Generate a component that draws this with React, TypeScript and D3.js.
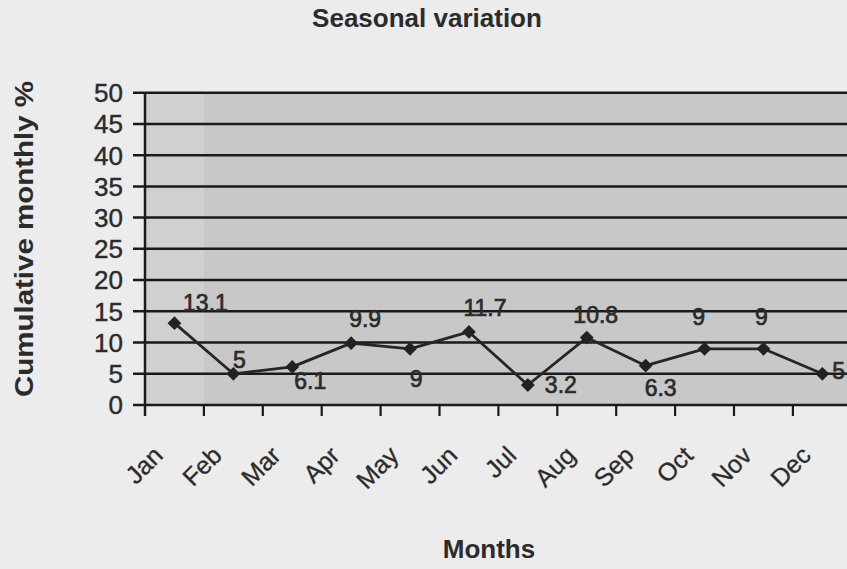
import React, { useRef, useEffect } from 'react';
import * as d3 from 'd3';

const months: string[] = ['Jan', 'Feb', 'Mar', 'Apr', 'May', 'Jun', 'Jul', 'Aug', 'Sep', 'Oct', 'Nov', 'Dec'];
const values: number[] = [13.1, 5, 6.1, 9.9, 9, 11.7, 3.2, 10.8, 6.3, 9, 9, 5];
const yTicks: number[] = [0, 5, 10, 15, 20, 25, 30, 35, 40, 45, 50];

// where each data label sits relative to its point (scan layout)
const labelPlace: [number, number, string][] = [
  [31, -12, 'middle'], [6, -6, 'middle'], [18, 22, 'middle'], [14, -16, 'middle'],
  [6, 38, 'middle'], [16, -16, 'middle'], [17, 8, 'start'], [9, -15, 'middle'],
  [15, 30, 'middle'], [-6, -24, 'middle'], [-2, -24, 'middle'], [10, 5, 'start'],
];

const W = 847;
const H = 569;
const FONT = '"Liberation Sans", Arial, sans-serif';
const INK = '#2b2b2b';

const App: React.FC = () => {
  const svgRef = useRef<SVGSVGElement | null>(null);

  useEffect(() => {
    const svg = d3.select(svgRef.current!);
    svg.selectAll('*').remove();

    const left = 145;
    const top = 92.7;
    const bottom = 405;
    const right = left + 12 * 58.9;

    const x = d3.scaleBand<string>().domain(months).range([left, right]).padding(0);
    const y = d3.scaleLinear().domain([0, 50]).range([bottom, top]);

    svg.append('rect').attr('width', W).attr('height', H).attr('fill', '#ececec');

    // plot area, first column a touch lighter like the scan
    svg.append('rect')
      .attr('x', left).attr('y', top)
      .attr('width', right - left).attr('height', bottom - top)
      .attr('fill', '#c8c8c8');
    svg.append('rect')
      .attr('x', left).attr('y', top)
      .attr('width', x.bandwidth()).attr('height', bottom - top)
      .attr('fill', '#d0d0d0');

    // gridlines + y ticks
    svg.append('g')
      .selectAll('line')
      .data(yTicks)
      .enter()
      .append('line')
      .attr('x1', left - 12)
      .attr('x2', right)
      .attr('y1', (d) => y(d))
      .attr('y2', (d) => y(d))
      .attr('stroke', '#1a1a1a')
      .attr('stroke-width', 2.5);

    svg.append('g')
      .selectAll('text')
      .data(yTicks)
      .enter()
      .append('text')
      .attr('x', 123)
      .attr('y', (d) => y(d))
      .attr('dy', '0.36em')
      .attr('text-anchor', 'end')
      .attr('font-family', FONT)
      .attr('font-size', 26)
      .attr('fill', INK)
      .attr('stroke', INK)
      .attr('stroke-width', 0.4)
      .text((d) => d);

    // y axis line
    svg.append('line')
      .attr('x1', left).attr('x2', left)
      .attr('y1', top).attr('y2', bottom + 11)
      .attr('stroke', '#1a1a1a').attr('stroke-width', 2.5);

    // x ticks at band edges
    const edges = months.map((m) => x(m)!).concat([right]);
    svg.append('g')
      .selectAll('line')
      .data(edges.slice(1))
      .enter()
      .append('line')
      .attr('x1', (d) => d).attr('x2', (d) => d)
      .attr('y1', bottom).attr('y2', bottom + 11)
      .attr('stroke', '#1a1a1a').attr('stroke-width', 2.2);

    // x labels
    svg.append('g')
      .selectAll('text')
      .data(months)
      .enter()
      .append('text')
      .attr('transform', (d) => `translate(${x(d)! + x.bandwidth() / 2 - 10},457) rotate(-45)`)
      .attr('text-anchor', 'end')
      .attr('font-family', FONT)
      .attr('font-size', 25)
      .attr('fill', INK)
      .attr('stroke', INK)
      .attr('stroke-width', 0.3)
      .text((d) => d);

    // series line
    const cx = (i: number) => x(months[i])! + x.bandwidth() / 2;
    const line = d3.line<number>()
      .x((_, i) => cx(i))
      .y((d) => y(d));

    svg.append('path')
      .datum(values)
      .attr('d', line)
      .attr('fill', 'none')
      .attr('stroke', '#262626')
      .attr('stroke-width', 2.8)
      .attr('stroke-linejoin', 'round');

    const marker = d3.symbol().type(d3.symbolSquare).size(95);
    svg.append('g')
      .selectAll('path')
      .data(values)
      .enter()
      .append('path')
      .attr('d', marker)
      .attr('transform', (d, i) => `translate(${cx(i)},${y(d)}) rotate(45)`)
      .attr('fill', '#222');

    // data labels
    svg.append('g')
      .selectAll('text')
      .data(values)
      .enter()
      .append('text')
      .attr('x', (d, i) => cx(i) + labelPlace[i][0])
      .attr('y', (d, i) => y(d) + labelPlace[i][1])
      .attr('text-anchor', (d, i) => labelPlace[i][2])
      .attr('font-family', FONT)
      .attr('font-size', 23)
      .attr('fill', INK)
      .attr('stroke', INK)
      .attr('stroke-width', 0.7)
      .text((d) => d);

    // titles
    svg.append('text')
      .attr('x', 427).attr('y', 27)
      .attr('text-anchor', 'middle')
      .attr('font-family', FONT)
      .attr('font-weight', 'bold')
      .attr('font-size', 26)
      .attr('fill', INK)
      .text('Seasonal variation');

    svg.append('text')
      .attr('x', 489).attr('y', 558)
      .attr('text-anchor', 'middle')
      .attr('font-family', FONT)
      .attr('font-weight', 'bold')
      .attr('font-size', 26)
      .attr('fill', INK)
      .text('Months');

    svg.append('text')
      .attr('transform', 'translate(33,239) rotate(-90)')
      .attr('text-anchor', 'middle')
      .attr('font-family', FONT)
      .attr('font-weight', 'bold')
      .attr('font-size', 26)
      .attr('fill', INK)
      .attr('textLength', 316)
      .attr('lengthAdjust', 'spacingAndGlyphs')
      .text('Cumulative monthly %');
  }, []);

  return (
    <svg
      ref={svgRef}
      width={W}
      height={H}
      style={{ position: 'absolute', left: 0, top: 0, display: 'block' }}
    ></svg>
  );
};

export default App;
